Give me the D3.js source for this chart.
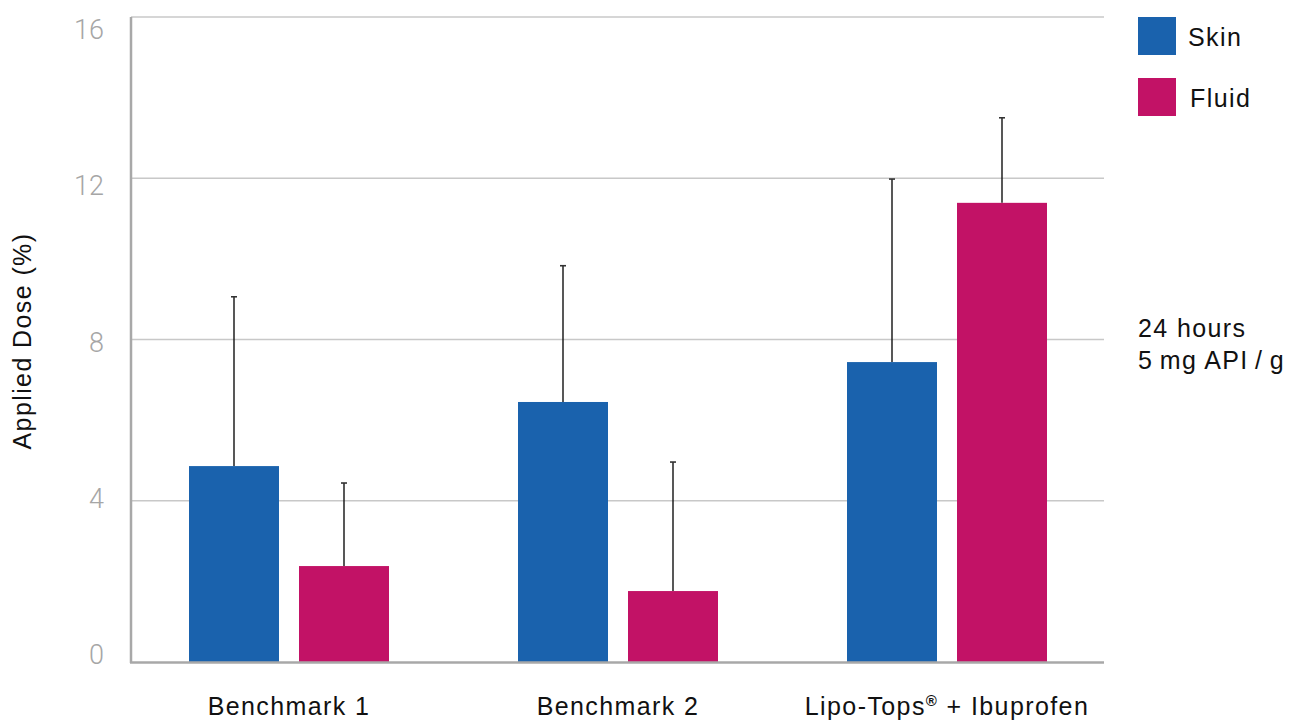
<!DOCTYPE html>
<html><head><meta charset="utf-8">
<script src="https://cdn.jsdelivr.net/npm/d3@7"></script>
<style>body{margin:0;background:#fff;} svg{display:block;}</style>
</head><body>
<svg id="c" width="1299" height="720"></svg>
<script>
const categories = ["Benchmark 1", "Benchmark 2", "Lipo-Tops\u00AE + Ibuprofen"];
const seriesNames = ["Skin", "Fluid"];
const skinValues = [4.86, 6.45, 7.44];
const fluidValues = [2.38, 1.76, 11.39];
const skinErrTop = [9.06, 9.83, 11.98];
const fluidErrTop = [4.44, 4.96, 13.5];
const yTicks = [0, 4, 8, 12, 16];
const colors = ["#1a62ad", "#c21266"];
const noteLines = ["24 hours", "5\u2009mg API\u2009/\u2009g"];

const svg = d3.select("#c");
const font = "'Liberation Sans', Arial, sans-serif";
const ls = "1.4px";
const y = d3.scaleLinear().domain([0, 16]).range([662, 17]);
const yLabel = d3.scaleLinear().domain([0, 16]).range([654, 29]);
const x0 = d3.scaleBand().domain(categories).range([124.5, 1111.5]);
const x1 = d3.scaleBand().domain(seriesNames).range([-100, 100]).paddingInner(0.1818);
const plotL = 131, plotR = 1104;

// gridlines
svg.append("g").selectAll("line").data(yTicks.filter(d => d > 0)).join("line")
  .attr("x1", plotL).attr("x2", plotR)
  .attr("y1", d => y(d)).attr("y2", d => y(d))
  .attr("stroke", "#c8c8c8").attr("stroke-width", 1.3);

// y tick labels
svg.append("g").selectAll("text").data(yTicks).join("text")
  .attr("x", 104).attr("y", d => yLabel(d) + 10)
  .attr("text-anchor", "end")
  .attr("font-family", "Roboto, sans-serif").attr("font-weight", 300)
  .attr("font-size", 27).attr("fill", "#a6a6a6")
  .text(d => d);

// data
const data = categories.map((c, i) => [
  {cat: c, s: "Skin", v: skinValues[i], e: skinErrTop[i]},
  {cat: c, s: "Fluid", v: fluidValues[i], e: fluidErrTop[i]}
]).flat();

const g = svg.append("g");
g.selectAll("rect").data(data).join("rect")
  .attr("x", d => x0(d.cat) + x0.bandwidth() / 2 + x1(d.s))
  .attr("width", x1.bandwidth())
  .attr("y", d => y(d.v))
  .attr("height", d => y(0) - y(d.v))
  .attr("fill", d => colors[seriesNames.indexOf(d.s)]);

// error bars
const cx = d => x0(d.cat) + x0.bandwidth() / 2 + x1(d.s) + x1.bandwidth() / 2;
g.selectAll("line.err").data(data).join("line").attr("class", "err")
  .attr("x1", cx).attr("x2", cx)
  .attr("y1", d => y(d.v)).attr("y2", d => y(d.e))
  .attr("stroke", "#111").attr("stroke-width", 1.4);
g.selectAll("line.cap").data(data).join("line").attr("class", "cap")
  .attr("x1", d => cx(d) - 3).attr("x2", d => cx(d) + 3)
  .attr("y1", d => y(d.e)).attr("y2", d => y(d.e))
  .attr("stroke", "#333").attr("stroke-width", 1.6);

// axes lines
svg.append("line").attr("x1", plotL).attr("x2", plotL).attr("y1", y(16)).attr("y2", y(0) + 1)
  .attr("stroke", "#a8a8a8").attr("stroke-width", 2.5);
svg.append("line").attr("x1", plotL - 1).attr("x2", plotR).attr("y1", y(0) + 0.5).attr("y2", y(0) + 0.5)
  .attr("stroke", "#a8a8a8").attr("stroke-width", 2.5);

// x labels (registered mark as superscript)
svg.append("g").selectAll("text").data(categories).join("text")
  .attr("x", d => x0(d) + x0.bandwidth() / 2).attr("y", 715)
  .attr("text-anchor", "middle")
  .attr("font-family", font).attr("font-size", 25).attr("letter-spacing", ls).attr("fill", "#111")
  .each(function(d) {
    const parts = d.split("\u00AE");
    const t = d3.select(this);
    t.append("tspan").text(parts[0]);
    if (parts.length > 1) {
      t.append("tspan").attr("font-size", 15).attr("dy", -9).attr("font-weight", "bold").text("\u00AE");
      t.append("tspan").attr("dy", 9).text(parts[1]);
    }
  });

// y title
svg.append("text")
  .attr("transform", "translate(31,341) rotate(-90)")
  .attr("text-anchor", "middle")
  .attr("font-family", font).attr("font-size", 25).attr("letter-spacing", ls).attr("fill", "#111")
  .text("Applied Dose (%)");

// legend
const lg = svg.append("g");
seriesNames.forEach((s, i) => {
  lg.append("rect").attr("x", 1138).attr("y", 17 + i * 61).attr("width", 38).attr("height", 38)
    .attr("fill", colors[i]);
  lg.append("text").attr("x", 1188 + i * 2).attr("y", 46 + i * 61)
    .attr("font-family", font).attr("font-size", 25).attr("letter-spacing", ls).attr("fill", "#111").text(s);
});

// note
svg.append("g").selectAll("text").data(noteLines).join("text")
  .attr("x", 1138).attr("y", (d, i) => 337 + i * 32)
  .attr("font-family", font).attr("font-size", 25).attr("letter-spacing", ls).attr("fill", "#111")
  .text(d => d);
</script>
</body></html>
